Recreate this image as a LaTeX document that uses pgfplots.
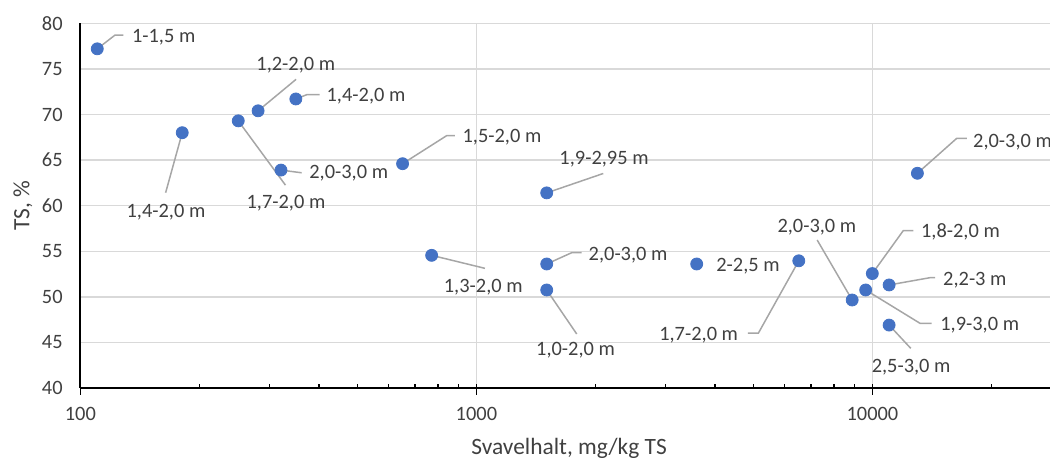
\documentclass[border=0pt]{standalone}
\usepackage{fontspec}
\setmainfont{Carlito}
\usepackage{pgfplots}
\pgfplotsset{compat=1.18}
\definecolor{ptblue}{HTML}{4472C4}
\definecolor{gridgray}{HTML}{D9D9D9}
\definecolor{leadgray}{HTML}{A6A6A6}
\definecolor{txt}{HTML}{404040}
\tikzset{
  leader/.style={draw=leadgray, line width=0.75pt},
  lbl/.style={font=\fontsize{10.2}{12}\selectfont, text=txt, inner sep=0pt}
}
\begin{document}
\begin{tikzpicture}
\path[use as bounding box] (-40.2pt,-35pt) rectangle (484.8pt,194pt);
\begin{axis}[
  at={(0pt,0pt)}, anchor=south west,
  scale only axis, width=484.8pt, height=182.35pt,
  xmode=log, xmin=100, xmax=28090, ymin=40, ymax=80,
  axis lines*=left,
  axis line style={black, line width=1pt},
  xtick={100,1000,10000}, xticklabels={100,1000,10000},
  minor xtick={200,300,400,500,600,700,800,900,2000,3000,4000,5000,6000,7000,8000,9000,20000},
  ytick={40,45,50,55,60,65,70,75,80},
  /pgf/number format/assume math mode=true,
  grid=major,
  major grid style={draw=gridgray, line width=0.7pt},
  tick align=inside,
  major tick length=5.5pt, minor tick length=2pt,
  xtick style={black, line width=0.7pt},
  major tick style={yshift=-3.5pt},
  ytick style={draw=none},
  tick label style={font=\fontsize{10.2}{12}\selectfont, text=txt},
  yticklabel style={anchor=east, inner sep=0pt, xshift=-8.7pt},
  xticklabel style={anchor=north, inner sep=0pt, yshift=-9.65pt},
  xlabel={Svavelhalt, mg/kg TS},
  ylabel={TS, \%},
  label style={font=\fontsize{11.7}{14}\selectfont, text=txt},
  xlabel style={at={(axis description cs:0.504,-0.1645)}, anchor=center},
  ylabel style={at={(axis description cs:-0.0592,0.5)}, anchor=center},
  clip=false,
]
% leader lines
\draw[leader] (axis cs:110.3,77.2) -- ++(8.85pt,6.85pt) -- ++(4.15pt,0pt);
\draw[leader] (axis cs:180.8,68.0) -- ++(-8.3pt,-30pt);
\draw[leader] (axis cs:281,70.4) -- ++(19pt,15.75pt);
\draw[leader] (axis cs:350,71.7) -- ++(5.5pt,2.15pt) -- ++(6.35pt,0pt);
\draw[leader] (axis cs:321,63.9) -- ++(10.35pt,-1.35pt);
\draw[leader] (axis cs:250.4,69.3) -- ++(23.6pt,-32.15pt);
\draw[leader] (axis cs:651,64.6) -- ++(22pt,14pt) -- ++(4.15pt,0pt);
\draw[leader] (axis cs:1505,61.4) -- ++(28.3pt,9.7pt);
\draw[leader] (axis cs:771,54.55) -- ++(26.65pt,-6.5pt);
\draw[leader] (axis cs:1505,53.6) -- ++(12.5pt,5.65pt) -- ++(5pt,0pt);
\draw[leader] (axis cs:1505,50.75) -- ++(15pt,-22pt);
\draw[leader] (axis cs:12990,63.55) -- ++(19.7pt,17.5pt) -- ++(5pt,0pt);
\draw[leader] (axis cs:6518,53.95) -- ++(-20.2pt,-36.15pt) -- ++(-5.3pt,0pt);
\draw[leader] (axis cs:8890,49.65) -- ++(-17.5pt,30pt);
\draw[leader] (axis cs:9995,52.55) -- ++(15.5pt,21.5pt) -- ++(5pt,0pt);
\draw[leader] (axis cs:11020,51.3) -- ++(20.5pt,3.65pt) -- ++(2.5pt,0pt);
\draw[leader] (axis cs:9616,50.75) -- ++(27.15pt,-16.65pt) -- ++(5.85pt,0pt);
\draw[leader] (axis cs:11020,46.9) -- ++(10.85pt,-11.65pt);
% points
\addplot[only marks, mark=*, mark size=3pt, mark options={fill=ptblue, draw=ptblue}] coordinates {
  (110.3,77.2) (180.8,68.0) (250.4,69.3) (281,70.4) (350,71.7) (321,63.9)
  (651,64.6) (1505,61.4) (771,54.55) (1505,53.6) (1505,50.75) (3600,53.6)
  (12990,63.55) (6518,53.95) (9995,52.55) (11020,51.3) (9616,50.75)
  (8890,49.65) (11020,46.9)
};
% labels
\path (axis cs:110.3,77.2) ++(17.2pt,5.85pt) node[lbl,anchor=west] {1-1,5 m};
\path (axis cs:180.8,68.0) ++(-8.15pt,-39.65pt) node[lbl] {1,4-2,0 m};
\path (axis cs:281,70.4) ++(18.85pt,22.85pt) node[lbl] {1,2-2,0 m};
\path (axis cs:350,71.7) ++(15.2pt,1.3pt) node[lbl,anchor=west] {1,4-2,0 m};
\path (axis cs:321,63.9) ++(14pt,-1.65pt) node[lbl,anchor=west] {2,0-3,0 m};
\path (axis cs:250.4,69.3) ++(23.85pt,-41.3pt) node[lbl] {1,7-2,0 m};
\path (axis cs:651,64.6) ++(29.8pt,13.2pt) node[lbl,anchor=west] {1,5-2,0 m};
\path (axis cs:1505,61.4) ++(28.65pt,16.7pt) node[lbl] {1,9-2,95 m};
\path (axis cs:771,54.55) ++(25.8pt,-15.7pt) node[lbl] {1,3-2,0 m};
\path (axis cs:1505,53.6) ++(20.8pt,4.5pt) node[lbl,anchor=west] {2,0-3,0 m};
\path (axis cs:1505,50.75) ++(14.4pt,-30.35pt) node[lbl] {1,0-2,0 m};
\path (axis cs:3600,53.6) ++(9.65pt,-0.85pt) node[lbl,anchor=west] {2-2,5 m};
\path (axis cs:12990,63.55) ++(27.7pt,15.3pt) node[lbl,anchor=west] {2,0-3,0 m};
\path (axis cs:6518,53.95) ++(-30.2pt,-37pt) node[lbl,anchor=east] {1,7-2,0 m};
\path (axis cs:8890,49.65) ++(-17.65pt,36.65pt) node[lbl] {2,0-3,0 m};
\path (axis cs:9995,52.55) ++(24.2pt,21pt) node[lbl,anchor=west] {1,8-2,0 m};
\path (axis cs:11020,51.3) ++(26.85pt,2.5pt) node[lbl,anchor=west] {2,2-3 m};
\path (axis cs:9616,50.75) ++(37.15pt,-17.5pt) node[lbl,anchor=west] {1,9-3,0 m};
\path (axis cs:11020,46.9) ++(11pt,-21.15pt) node[lbl] {2,5-3,0 m};
\end{axis}
\end{tikzpicture}
\end{document}
